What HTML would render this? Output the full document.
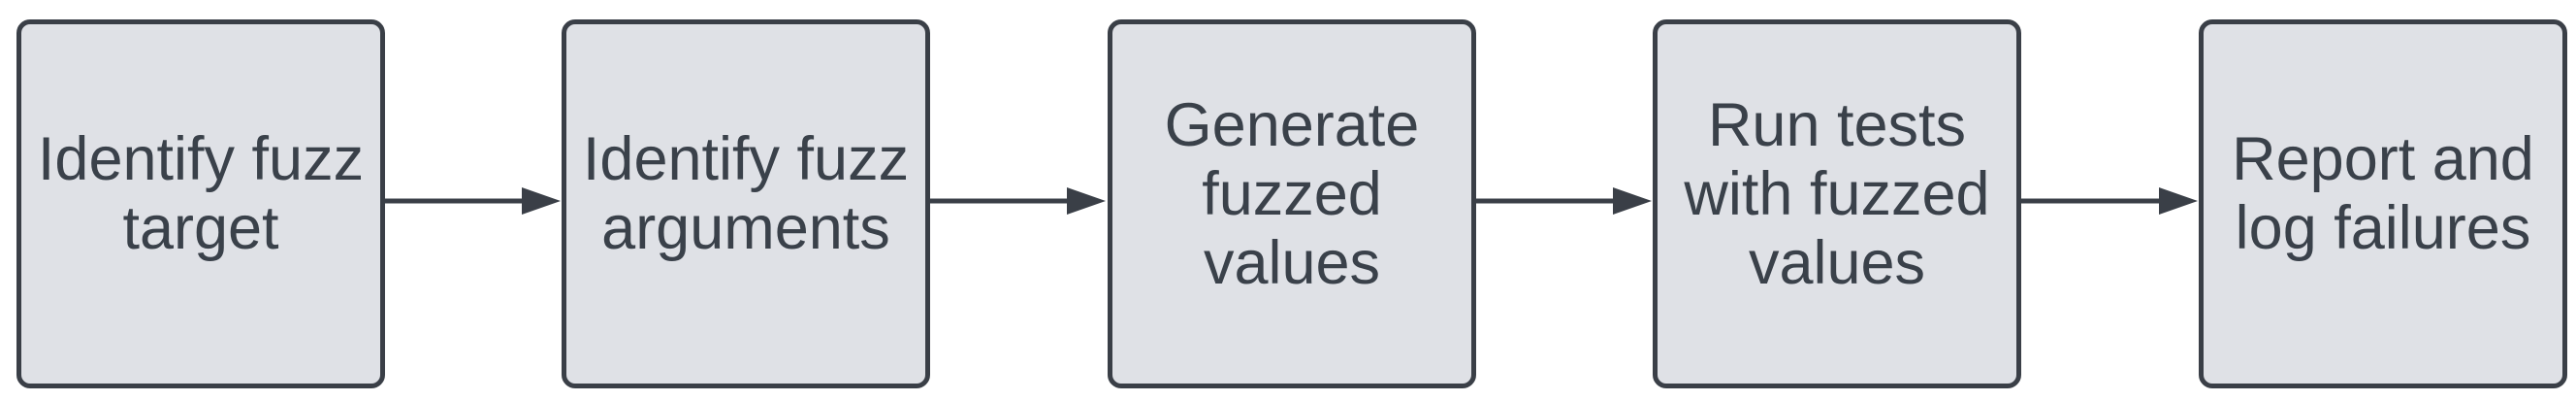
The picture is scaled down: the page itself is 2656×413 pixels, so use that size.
<!DOCTYPE html>
<html><head><style>
html,body{margin:0;padding:0;background:#fff;}
body{width:2656px;height:413px;position:relative;overflow:hidden;font-family:"Liberation Sans",sans-serif;}
.b{position:absolute;top:20px;width:370px;height:370px;background:#dfe1e6;border:5px solid #3a3f47;border-radius:14px;display:flex;align-items:center;justify-content:center;text-align:center;color:#3a414a;font-size:63px;line-height:71px;box-sizing:content-box;}
.b span{position:relative;top:-10px;}
</style></head><body>
<svg width="2656" height="413" style="position:absolute;left:0;top:0">
<g stroke="#3a3f47" stroke-width="5" fill="#3a3f47">
<line x1="395" y1="207" x2="540" y2="207"/><polygon points="538,193 578,207 538,221" stroke="none"/>
<line x1="957" y1="207" x2="1102" y2="207"/><polygon points="1100,193 1140,207 1100,221" stroke="none"/>
<line x1="1520" y1="207" x2="1665" y2="207"/><polygon points="1663,193 1703,207 1663,221" stroke="none"/>
<line x1="2082" y1="207" x2="2228" y2="207"/><polygon points="2226,193 2266,207 2226,221" stroke="none"/>
</g></svg>
<div class="b" style="left:17px"><span>Identify fuzz<br>target</span></div>
<div class="b" style="left:579px"><span>Identify fuzz<br>arguments</span></div>
<div class="b" style="left:1142px"><span>Generate<br>fuzzed<br>values</span></div>
<div class="b" style="left:1704px"><span>Run tests<br>with fuzzed<br>values</span></div>
<div class="b" style="left:2267px"><span>Report and<br>log failures</span></div>
</body></html>
